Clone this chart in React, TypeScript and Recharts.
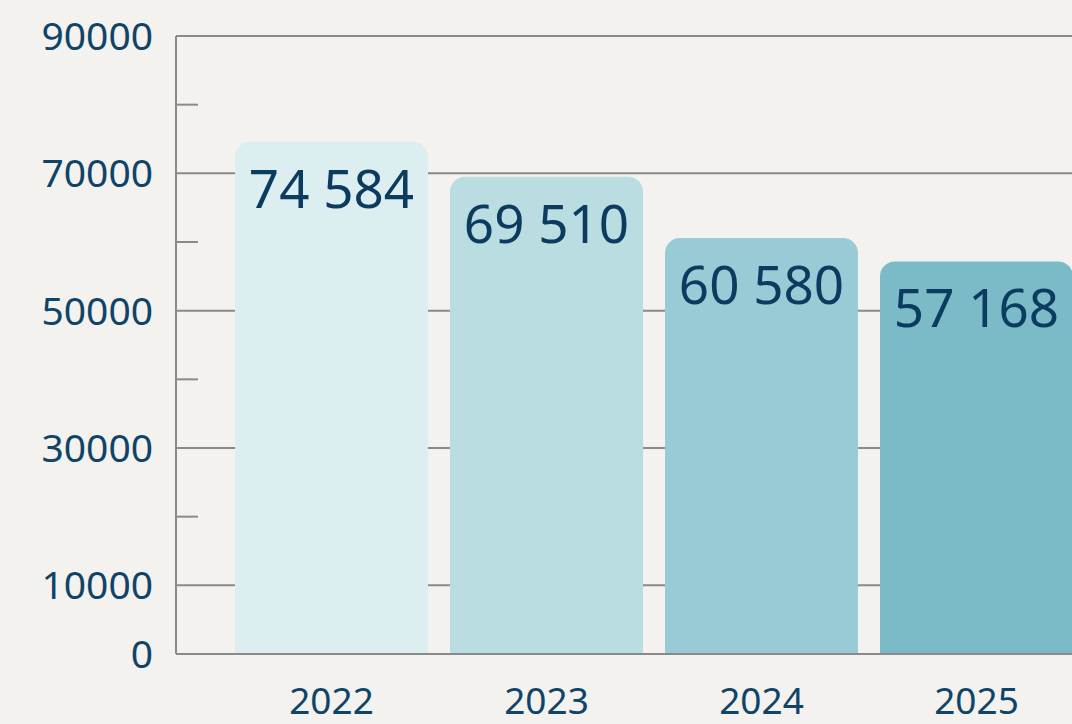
import React from "react";
import { BarChart, Bar, XAxis, YAxis, CartesianGrid, Cell, LabelList, ReferenceLine } from "recharts";

const years = ["2022", "2023", "2024", "2025"];
const values = [74584, 69510, 60580, 57168];
const barColors = ["#ddeef1", "#badde1", "#98cbd5", "#7abbc7"];
const yTicks = [0, 10000, 30000, 50000, 70000, 90000];
const minorTicks = [20000, 40000, 60000, 80000];

const data = years.map((y, i) => ({ year: y, value: values[i] }));

const BG = "#f3f2ee";
const AXIS = "#8a8a8a";
const TEXT = "#0f4468";
const FONT = "'Noto Sans', 'Open Sans', sans-serif";

const fmt = (v: number) => String(v).replace(/\B(?=(\d{3})+(?!\d))/g, " ");

const ValueLabel = (props: any) => {
  const { x, y, width, value } = props;
  return (
    <text
      x={x + width / 2}
      y={y + 66}
      textAnchor="middle"
      fill="#0b3c60"
      fontSize={53}
      fontFamily={FONT}
    >
      {fmt(value)}
    </text>
  );
};

const MinorTick = (props: any) => {
  const { x1, y1 } = props;
  return <line x1={x1} y1={y1} x2={x1 + 22} y2={y1} stroke={AXIS} strokeWidth={2} />;
};

export default function App() {
  return (
    <div
      style={{
        position: "absolute",
        left: 0,
        top: 0,
        width: 1072,
        height: 724,
        overflow: "hidden",
        background: BG,
      }}
    >
      <BarChart
        width={1084}
        height={724}
        data={data}
        margin={{ top: 36, right: 0, left: 0, bottom: 0 }}
      >
        <CartesianGrid horizontal vertical={false} stroke={AXIS} strokeWidth={2} />
        <XAxis
          dataKey="year"
          height={70}
          padding={{ left: 48, right: 0 }}
          tickLine={false}
          tickSize={0}
          tickMargin={34}
          axisLine={{ stroke: AXIS, strokeWidth: 2 }}
          tick={{ fill: TEXT, fontSize: 37, fontFamily: FONT }}
        />
        <YAxis
          width={176}
          domain={[0, 90000]}
          ticks={yTicks}
          interval={0}
          tickLine={false}
          tickSize={0}
          tickMargin={23}
          axisLine={{ stroke: AXIS, strokeWidth: 2 }}
          tick={{ fill: TEXT, fontSize: 39, fontFamily: FONT }}
        />
        {minorTicks.map((t) => (
          <ReferenceLine key={t} y={t} shape={MinorTick} ifOverflow="visible" />
        ))}
        <Bar dataKey="value" barSize={193} radius={[15, 15, 0, 0]} isAnimationActive={false}>
          {data.map((d, i) => (
            <Cell key={d.year} fill={barColors[i]} />
          ))}
          <LabelList dataKey="value" content={ValueLabel} />
        </Bar>
      </BarChart>
    </div>
  );
}
